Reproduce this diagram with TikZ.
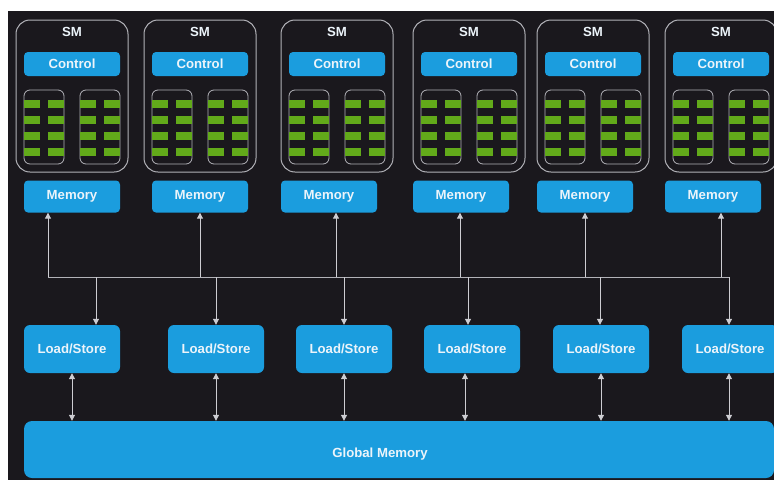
\documentclass[tikz,border=0pt]{standalone}
\usepackage{fontspec}
\setsansfont{Liberation Sans}
\usetikzlibrary{arrows.meta}

\definecolor{bgdark}{RGB}{26,24,29}
\definecolor{boxblue}{RGB}{27,157,222}
\definecolor{coregreen}{RGB}{98,170,26}
\definecolor{rimgray}{RGB}{178,178,184}
\definecolor{wiregray}{RGB}{205,205,210}
\definecolor{labelwhite}{RGB}{236,244,250}

\begin{document}
\begin{tikzpicture}[x=1pt, y=-1pt,
		every node/.style={font={\sffamily\bfseries\fontsize{13.2}{15}\selectfont}, text=labelwhite, inner sep=0pt},
		smbox/.style={draw=rimgray, line width=1pt, rounded corners=14pt, minimum width=112pt, minimum height=152pt},
		grpbox/.style={draw=rimgray, line width=0.8pt, rounded corners=6pt, minimum width=40pt, minimum height=74pt},
		cell/.style={fill=coregreen, minimum width=15.5pt, minimum height=8pt},
		ctrlbox/.style={fill=boxblue, rounded corners=4pt, minimum width=96pt, minimum height=24pt},
		membox/.style={fill=boxblue, rounded corners=4pt, minimum width=96pt, minimum height=32pt},
		lsbox/.style={fill=boxblue, rounded corners=6pt, minimum width=96pt, minimum height=48pt},
		globbox/.style={fill=boxblue, rounded corners=8pt, minimum width=750pt, minimum height=57pt},
		wire/.style={draw=wiregray, line width=1pt, -{Triangle[length=6pt,width=6pt]}},
		dwire/.style={draw=wiregray, line width=1pt, {Triangle[length=6pt,width=6pt]}-{Triangle[length=6pt,width=6pt]}}
	]
		\useasboundingbox (0,0) rectangle (774,480);
		\fill[bgdark] (8,11) rectangle (774,480);

		%––––– row 1: streaming multiprocessors –––––
		\foreach \i/\x in {1/72,2/200,3/337,4/469,5/593,6/721} {
			\node[smbox] (sm\i) at (\x,96) {};
			\node (smlbl\i) at (\x,32) {SM};
			\node[ctrlbox] (ctl\i) at (\x,64) {Control};
			\node[grpbox] (grpa\i) at (\x-28,127) {};
			\node[grpbox] (grpb\i) at (\x+28,127) {};
			\foreach \r in {104,120,136,152} {
				\node[cell] (cella\i-\r-1) at (\x-40,\r) {};
				\node[cell] (cella\i-\r-2) at (\x-16,\r) {};
				\node[cell] (cellb\i-\r-1) at (\x+16,\r) {};
				\node[cell] (cellb\i-\r-2) at (\x+40,\r) {};
			}
		}

		%––––– row 2: memory –––––
		\foreach \i/\x in {1/72,2/200,3/329,4/461,5/585,6/713}
			\node[membox] (mem\i) at (\x,196.5) {Memory};

		%––––– row 3: load/store –––––
		\foreach \i/\x in {1/72,2/216,3/344,4/472,5/601,6/730}
			\node[lsbox] (ls\i) at (\x,349) {Load/Store};

		%––––– row 4: global memory –––––
		\node[globbox] (gm) at (399,449.5) {};
		\node (gmlbl) at (380,454) {Global Memory};

		%––––– bus –––––
		\foreach \i/\x in {1/48,2/200,3/336,4/460,5/585,6/721}
			\coordinate (busup\i) at (\x,277);
		\foreach \i/\x in {1/96,2/216,3/344,4/468,5/600,6/729}
			\coordinate (busdn\i) at (\x,277);
		\draw[draw=rimgray, line width=1pt] (busup1) -- (busdn6);

		\foreach \i in {1,...,6} {
			\draw[wire] (busup\i) -- (busup\i |- mem\i.south);
			\draw[wire] (busdn\i) -- (busdn\i |- ls\i.north);
		}

		%––––– load/store <-> global –––––
		\foreach \i/\x in {1/72,2/216,3/344,4/465,5/601,6/729} {
			\coordinate (io\i) at (\x,400);
			\draw[dwire] (io\i |- ls\i.south) -- (io\i |- gm.north);
		}
	\end{tikzpicture}
\end{document}
